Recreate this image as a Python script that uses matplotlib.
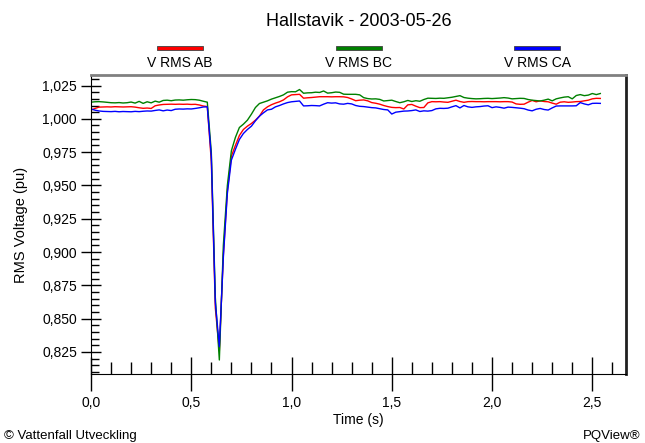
import numpy as np
import matplotlib
matplotlib.use('Agg')
import matplotlib.pyplot as plt
from matplotlib.ticker import MultipleLocator, FuncFormatter
from matplotlib.patches import Rectangle

plt.rcParams['font.family'] = ['Liberation Sans', 'DejaVu Sans']

titel = 'Hallstavik - 2003-05-26'
serier = ['V RMS AB', 'V RMS BC', 'V RMS CA']
farger = ['#ff0000', '#008000', '#0000ff']
dt = 0.02  # sampeltid (s)

# V RMS AB (rod)
v_ab = [1.0066, 1.0078, 1.0088, 1.0089, 1.0090, 1.0089, 1.0091, 1.0090, 1.0089, 1.0090,
        1.0091, 1.0088, 1.0083, 1.0079, 1.0081, 1.0078, 1.0098, 1.0104, 1.0108, 1.0109,
        1.0110, 1.0109, 1.0110, 1.0109, 1.0110, 1.0108, 1.0109, 1.0104, 1.0096,
        1.0092, 0.968, 0.858, 0.826, 0.898, 0.946, 0.972,
        0.980, 0.9875, 0.9920, 0.9945, 0.9965, 0.9990, 1.0020, 1.0067, 1.0090, 1.0106,
        1.0118, 1.0128, 1.0142, 1.0165, 1.0180, 1.0182, 1.0184, 1.0155, 1.0158, 1.0160,
        1.0163, 1.0166, 1.0166, 1.0166, 1.0165, 1.0166, 1.0166, 1.0165, 1.0160, 1.0149,
        1.0136, 1.0140, 1.0142, 1.0135, 1.0122, 1.0117, 1.0110, 1.0100, 1.0092, 1.0086,
        1.0084, 1.0085, 1.0074, 1.0105, 1.0108, 1.0095, 1.0084, 1.0085, 1.0120, 1.0129,
        1.0128, 1.0129, 1.0126, 1.0124, 1.0132, 1.0140, 1.0130, 1.0124, 1.0129, 1.0130,
        1.0129, 1.0129, 1.0128, 1.0129,
        1.0129, 1.0129, 1.0128, 1.0129, 1.0129, 1.0126, 1.0112, 1.0109, 1.0110, 1.0125,
        1.0138, 1.0128, 1.0135, 1.0130, 1.0128, 1.0118, 1.0110, 1.0125, 1.0128, 1.0124,
        1.0126, 1.0129, 1.0130, 1.0135, 1.0140, 1.0150, 1.0154, 1.0153]

# V RMS BC (gron)
v_bc = [1.0125, 1.0128, 1.0129, 1.0127, 1.0124, 1.0121, 1.0120, 1.0122, 1.0119, 1.0121,
        1.0126, 1.0118, 1.0131, 1.0116, 1.0128, 1.0120, 1.0133, 1.0125, 1.0138, 1.0140,
        1.0136, 1.0141, 1.0142, 1.0140, 1.0143, 1.0145, 1.0144, 1.0140, 1.0132,
        1.0125, 0.975, 0.866, 0.819, 0.905, 0.950, 0.976,
        0.986, 0.9935, 0.9960, 0.9990, 1.0035, 1.0085, 1.0115, 1.0125, 1.0135, 1.0148,
        1.0158, 1.0168, 1.0180, 1.0200, 1.0204, 1.0203, 1.0220, 1.0192, 1.0195, 1.0196,
        1.0200, 1.0198, 1.0209, 1.0193, 1.0196, 1.0201, 1.0199, 1.0185, 1.0184, 1.0184,
        1.0184, 1.0180, 1.0159, 1.0152, 1.0149, 1.0150, 1.0146, 1.0134, 1.0137, 1.0140,
        1.0130, 1.0121, 1.0128, 1.0138, 1.0130, 1.0136, 1.0132, 1.0145, 1.0155, 1.0154,
        1.0153, 1.0155, 1.0154, 1.0158, 1.0162, 1.0168, 1.0174, 1.0160, 1.0155, 1.0152,
        1.0150, 1.0151, 1.0153, 1.0154,
        1.0152, 1.0154, 1.0156, 1.0159, 1.0156, 1.0150, 1.0152, 1.0154, 1.0153, 1.0145,
        1.0140, 1.0137, 1.0134, 1.0140, 1.0148, 1.0135, 1.0150, 1.0157, 1.0163, 1.0166,
        1.0150, 1.0175, 1.0182, 1.0174, 1.0178, 1.0190, 1.0182, 1.0190]

# V RMS CA (bla)
v_ca = [1.0074, 1.0065, 1.0059, 1.0056, 1.0055, 1.0054, 1.0056, 1.0053, 1.0055, 1.0054,
        1.0053, 1.0056, 1.0054, 1.0057, 1.0059, 1.0058, 1.0063, 1.0067, 1.0060, 1.0066,
        1.0062, 1.0072, 1.0074, 1.0073, 1.0075, 1.0074, 1.0078, 1.0083, 1.0089,
        1.0090, 0.972, 0.862, 0.829, 0.896, 0.944, 0.969,
        0.977, 0.9845, 0.9890, 0.9920, 0.9945, 0.9985, 1.0020, 1.0045, 1.0067, 1.0072,
        1.0090, 1.0100, 1.0112, 1.0122, 1.0128, 1.0131, 1.0134, 1.0097, 1.0098, 1.0100,
        1.0099, 1.0097, 1.0110, 1.0121, 1.0118, 1.0120, 1.0112, 1.0110, 1.0116, 1.0112,
        1.0100, 1.0094, 1.0092, 1.0088, 1.0084, 1.0082, 1.0076, 1.0070, 1.0067, 1.0036,
        1.0050, 1.0054, 1.0058, 1.0059, 1.0062, 1.0067, 1.0055, 1.0060, 1.0058, 1.0062,
        1.0075, 1.0079, 1.0078, 1.0080, 1.0090, 1.0099, 1.0082, 1.0100, 1.0090, 1.0086,
        1.0090, 1.0092, 1.0096, 1.0098,
        1.0084, 1.0090, 1.0086, 1.0080, 1.0088, 1.0086, 1.0083, 1.0080, 1.0076, 1.0066,
        1.0060, 1.0072, 1.0078, 1.0070, 1.0066, 1.0082, 1.0096, 1.0097, 1.0097, 1.0097,
        1.0097, 1.0098, 1.0122, 1.0112, 1.0105, 1.0116, 1.0117, 1.0116]

t = np.arange(len(v_ab)) * dt

fig = plt.figure(figsize=(6.45, 4.43), dpi=100)
ax = fig.add_axes([0.1411, 0.1558, 0.8294, 0.6749])

for v, c in zip([v_ab, v_bc, v_ca], farger):
    ax.plot(t, v, color=c, lw=1.0)

ax.set_xlim(0, 2.668)
ax.set_ylim(0.8085, 1.0329)

ax.xaxis.set_major_locator(MultipleLocator(0.5))
ax.xaxis.set_minor_locator(MultipleLocator(0.1))
ax.yaxis.set_major_locator(MultipleLocator(0.025))
ax.yaxis.set_minor_locator(MultipleLocator(0.005))
ax.xaxis.set_major_formatter(FuncFormatter(lambda x, p: f'{x:.1f}'.replace('.', ',')))
ax.yaxis.set_major_formatter(FuncFormatter(lambda y, p: f'{y:.3f}'.replace('.', ',')))

ax.tick_params(axis='x', which='major', direction='inout', length=24, width=1, labelsize=10, pad=4)
ax.tick_params(axis='x', which='minor', direction='in', length=9, width=1)
ax.tick_params(axis='y', which='major', direction='inout', length=14, width=1, labelsize=10, pad=3)
ax.tick_params(axis='y', which='minor', direction='in', length=6, width=1)

ax.spines['top'].set_color('#808080')
ax.spines['top'].set_linewidth(2)
ax.spines['right'].set_linewidth(2)
ax.spines['right'].set_color('#202020')

ax.set_xlabel('Time (s)', fontsize=10, labelpad=2)
ax.set_ylabel('RMS Voltage (pu)', fontsize=10.5, labelpad=10)

fig.text(0.556, 0.952, titel, ha='center', va='center', fontsize=13)

# legend: linjeprov med text under
for i, (namn, c) in enumerate(zip(serier, farger)):
    xc = (180 + i * 178.5) / 645
    fig.add_artist(Rectangle((xc - 23 / 645, 1 - 50 / 443), 46 / 645, 4 / 443,
                             transform=fig.transFigure, facecolor=c,
                             edgecolor='#404040', lw=0.6))
    fig.text(xc, 1 - 63 / 443, namn, ha='center', va='center', fontsize=10)

fig.text(4 / 645, 1 - 436 / 443, '\u00a9 Vattenfall Utveckling', ha='left', va='center', fontsize=9.5)
fig.text(641 / 645, 1 - 436 / 443, 'PQView\u00ae', ha='right', va='center', fontsize=9.5)

fig.savefig('out.png', dpi=100)
